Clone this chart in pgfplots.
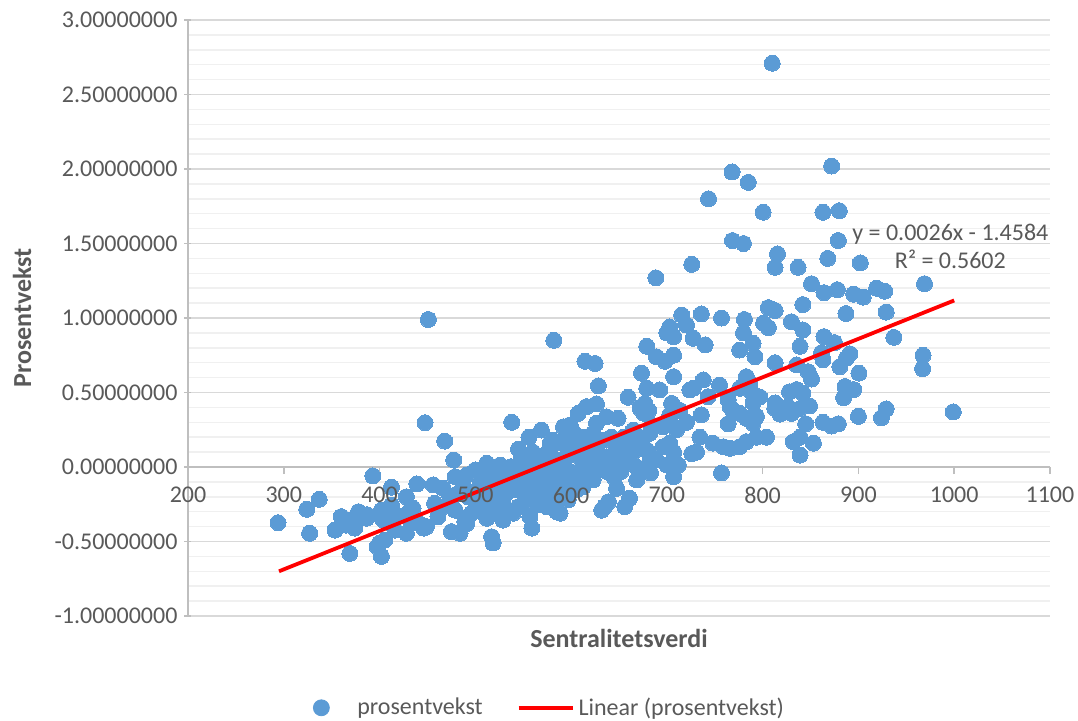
\documentclass[border=0pt]{standalone}
\usepackage{pgfplots}
\pgfplotsset{compat=1.18}
\usepackage{fontspec}
\setmainfont{Carlito}
\definecolor{ptblue}{HTML}{5B9BD5}
\definecolor{txtgray}{HTML}{595959}
\definecolor{majgrid}{HTML}{D9D9D9}
\definecolor{mingrid}{HTML}{F0F0F0}
\definecolor{axgray}{HTML}{BFBFBF}
\pgfplotstableread{
x y
294 -0.374
324 -0.284
327 -0.445
337 -0.217
353.5 -0.423
360 -0.333
365 -0.39
369 -0.356
369 -0.58
374 -0.41
378 -0.30
381 -0.333
386.5 -0.344
387 -0.32
393 -0.06
397.5 -0.535
400 -0.51
402 -0.29
402 -0.60
404 -0.356
405.5 -0.49
411 -0.333
412.5 -0.136
412.5 -0.255
416 -0.423
420 -0.33
428 -0.20
428 -0.445
432 -0.29
433.5 -0.378
435 -0.277
435.5 -0.356
439 -0.114
441 -0.378
446 -0.41
447.5 0.297
449 -0.40
451 0.99
456 -0.12
457.5 -0.244
461 -0.333
466.5 -0.143
466.5 -0.266
468 0.174
473.5 -0.20
475 -0.434
477.5 0.047
479 -0.29
479 -0.065
482.5 -0.177
484 -0.445
487.5 -0.132
487.5 -0.087
489 -0.367
491 -0.054
491 -0.38
492.5 -0.20
496 -0.31
500 -0.02
498 -0.17
502 -0.25
505 -0.11
505 -0.03
508 -0.22
510 -0.18
510 -0.28
512 -0.344
512 0.025
515 -0.05
517 -0.468
518.5 -0.51
519 -0.087
520 -0.2
522 -0.3
525 -0.13
526 0.013
529 -0.356
529 -0.244
530 -0.05
532 -0.18
536 -0.11
537 0.002
538 0.30
539.5 -0.31
540 -0.06
543 -0.15
545 -0.266
545 -0.03
545 0.12
548 0.058
550 -0.087
550 0.047
552 -0.23
555 -0.12
556 0.20
557 -0.333
558 -0.05
559 -0.41
560 0.1
560.5 0.002
562 -0.2
564 -0.13
564 0.013
566 -0.25
567.5 -0.065
569 0.248
570 -0.1
570 0.05
572 -0.02
574.5 -0.18
574.5 -0.266
575 -0.076
576 0.103
578 -0.03
578 0.16
580 -0.12
581 0.18
582 0.85
583 -0.22
585 0.16
585 0.047
585 -0.30
585 -0.065
588 -0.2
588.5 -0.31
590 -0.15
590 0.03
592 0.18
592 0.27
595 0.07
595 -0.1
597 -0.22
597 0.12
599 -0.03
599 0.282
600 0.1
602 0.237
603 -0.05
605 0.13
605.5 -0.154
607.5 0.36
610 0.06
611 -0.009
612 0.2
612.6 -0.132
614.5 0.71
615 -0.05
616 0.405
616 0.17
618 0.19
619.6 0.047
620 0.12
623 0.025
623 -0.087
623 0.226
625 0.695
626.5 0.423
626.5 0.293
627 0.16
628 0.08
628.5 0.544
630 -0.02
632 -0.29
633 0.0
633.5 0.18
635 -0.266
637 0.337
637 0.069
637 -0.03
639 -0.233
640 0.05
642 0.2
645 -0.07
647.5 0.136
647.5 -0.009
647.5 -0.143
649 0.327
651 0.092
652 -0.03
655 0.2
656 -0.266
658 0.17
658 0.047
659.5 0.468
661 -0.21
661 0.036
665 0.248
665 0.1
668 0.0
668.5 -0.087
672 0.394
672 0.17
673.5 0.63
676 0.36
677 0.427
679 0.81
679 0.528
679 0.114
679 0.002
681 0.38
682 0.08
682 0.226
683 -0.04
684 0.28
688.5 1.27
689 0.74
689 0.047
692.5 0.517
696 0.27
696 0.136
698 0.71
700 0.90
700 0.013
703 0.94
703 0.35
703 0.16
703 0.315
705 0.427
707 0.875
707 0.75
707 0.606
707 0.10
707 -0.065
710 0.25
712 0.013
713.5 0.38
715.5 1.02
720.5 0.953
720.5 0.30
724 0.517
726 1.36
726 0.09
727.5 0.864
727.5 0.528
731 0.10
734.5 0.20
736 1.027
736 0.35
738 0.584
740 0.82
743 0.472
743.5 1.80
748 0.16
755 0.55
757 1.0
757 -0.04
759 0.136
764 0.45
764 0.29
766 0.125
766 0.405
768 1.98
768.5 1.52
769 0.38
776 0.785
776 0.528
776 0.36
776 0.136
780 1.50
780 0.90
781 0.99
783 0.606
783 0.327
783 0.17
785 1.91
786.6 0.56
788 0.505
790 0.43
790 0.83
790 0.293
792 0.74
793.5 0.34
793.6 0.2
797 0.47
800.5 1.71
801 0.965
804 0.20
806 1.07
806 0.935
810 2.71
812.7 0.394
813 1.34
813 1.05
813 0.70
813 0.43
815.5 1.43
818 0.355
826.5 0.405
828 0.505
830 0.975
830 0.36
832 0.17
835.5 0.685
835.5 0.52
837 1.34
838.5 0.39
839 0.81
839 0.20
839 0.08
842 1.09
842 0.92
842 0.495
845 0.29
847.5 0.64
849 0.41
851 1.23
851 0.59
853 0.16
861.5 0.767
863 1.71
863 0.72
863 0.30
864 1.17
864 0.875
868 1.40
872 2.02
872 0.275
875 0.835
878 1.19
879 1.52
879 0.29
880 1.72
880.5 0.673
884.5 0.465
886 0.54
887 1.03
887.5 0.73
891 0.76
895 1.16
895 0.52
900 0.34
900.5 0.63
902 1.37
905 1.14
919 1.20
924 0.33
927.5 1.18
929 1.04
929 0.39
937 0.87
967 0.66
967.5 0.75
969 1.23
999 0.37
}\scatterdata
\pgfplotstableread{
x y
295 -0.700
1000 1.118
}\trenddata
\pgfplotsset{
  common/.style={
    at={(0,0)}, anchor=south west,
    scale only axis, width=431pt, height=298pt,
    xmin=200, xmax=1100, ymin=-1, ymax=3,
    axis x line=middle,
    hide obscured x ticks=false,
    xtick={200,300,...,1100},
    tick align=outside,
    major tick length=3.5pt,
    minor tick length=0pt,
    xticklabel style={font=\fontsize{12}{14}\selectfont, text=txtgray, yshift=-3pt},
    /pgf/number format/assume math mode=true,
  },
}
\begin{document}
\begin{tikzpicture}
\path[use as bounding box] (-94pt,-52pt) rectangle (445pt,308pt);
\begin{axis}[
  common,
  axis y line=left,
  axis line style={draw=axgray, line width=0.8pt, -},
  xticklabels={},
  ytick={-1,-0.5,0,0.5,1,1.5,2,2.5,3},
  yticklabels={-1.00000000,-0.50000000,0.00000000,0.50000000,1.00000000,1.50000000,2.00000000,2.50000000,3.00000000},
  minor y tick num=4,
  ymajorgrids, yminorgrids,
  major grid style={draw=majgrid, line width=0.75pt},
  minor grid style={draw=mingrid, line width=0.75pt},
  tick style={draw=axgray, line width=0.8pt},
  yticklabel style={font=\fontsize{12}{14}\selectfont, text=txtgray},
  xlabel={Sentralitetsverdi},
  ylabel={Prosentvekst},
  every axis x label/.style={at={(axis description cs:0.5,-0.037)}, anchor=center, font=\bfseries\fontsize{13}{15}\selectfont, text=txtgray},
  every axis y label/.style={at={(axis description cs:-0.1926,0.5)}, anchor=center, rotate=90, font=\bfseries\fontsize{13}{15}\selectfont, text=txtgray},
  legend style={at={(axis description cs:0.1357,-0.154)}, anchor=west, draw=none, fill=none, inner sep=0pt,
    font=\fontsize{12}{14}\selectfont, text=txtgray,
    /tikz/every even column/.append style={column sep=15pt}},
  legend columns=2,
  clip=true,
  clip marker paths=true,
]
\addplot[only marks, mark=*, color=ptblue, mark size=4pt, mark options={draw=ptblue, fill=ptblue, line width=0pt},
  legend image code/.code={\path[draw=none,fill=none] (0pt,0pt) rectangle (24pt,0.1pt); \fill[ptblue] (8pt,0pt) circle (4pt);}]
  table[x=x,y=y] {\scatterdata};
\addlegendentry{prosentvekst}
\addplot[draw=red, line width=1.9pt, no marks,
  legend image code/.code={\draw[red, line width=1.9pt] (0pt,0pt) -- (27pt,0pt);}]
  table[x=x,y=y] {\trenddata};
\addlegendentry{Linear (prosentvekst)}
\node[align=center, font=\fontsize{12}{14}\selectfont, text=txtgray] at (axis cs:996,1.483) {y = 0.0026x - 1.4584\\R² = 0.5602};
\end{axis}
\begin{axis}[
  common,
  axis y line=none,
  axis line style={draw=none},
  tick style={draw=none},
  ytick=\empty,
  xticklabel={\pgfmathprintnumber[fixed,1000 sep={}]{\tick}},
]
\end{axis}
\end{tikzpicture}
\end{document}
